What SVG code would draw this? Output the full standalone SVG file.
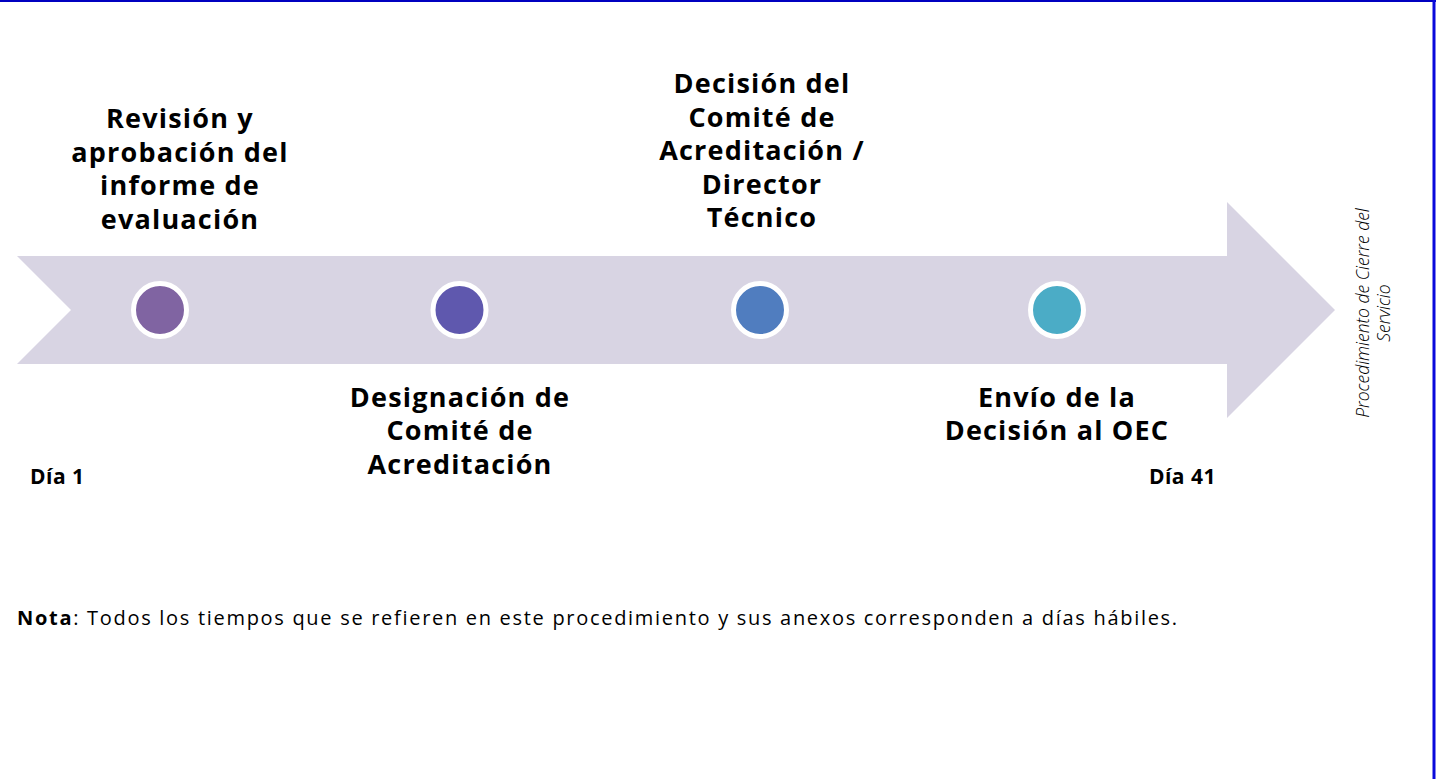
<svg xmlns="http://www.w3.org/2000/svg" width="1436" height="779" viewBox="0 0 1436 779">
<style>
.t{font-family:"Open Sans","Liberation Sans",sans-serif;font-weight:bold;font-size:27px;letter-spacing:1.2px;fill:#000;text-anchor:middle}
.d{font-family:"Open Sans","Liberation Sans",sans-serif;font-weight:bold;font-size:21px;letter-spacing:0.5px;fill:#000}
.n{font-family:"Open Sans","Liberation Sans",sans-serif;font-size:20px;letter-spacing:1.7px;fill:#000}
.s{font-family:"Open Sans","Liberation Sans",sans-serif;font-style:italic;font-weight:300;font-size:17.5px;fill:#000;text-anchor:middle}
.c{stroke:#fff;stroke-width:5}
</style>
<rect x="0" y="0" width="1436" height="779" fill="#fff"/>
<line x1="0" y1="1" x2="1436" y2="1" stroke="#0000C0" stroke-width="2"/>
<line x1="1434" y1="0" x2="1434" y2="779" stroke="#0A0ADC" stroke-width="3"/>
<g id="arrow">
<polygon points="17,256 1227,256 1227,202 1335,310 1227,418 1227,364 17,364 71,310" fill="#D8D4E3"/>
</g>
<g id="connectors"></g>
<g id="node1">
<circle class="c" cx="160" cy="310" r="26.5" fill="#8064A2"/>
<text class="t"><tspan x="180" y="128">Revisión y</tspan><tspan x="180" y="161.5">aprobación del</tspan><tspan x="180" y="195">informe de</tspan><tspan x="180" y="228.5">evaluación</tspan></text>
</g>
<g id="node2">
<circle class="c" cx="459.5" cy="310" r="26.5" fill="#5F58AE"/>
<text class="t"><tspan x="460" y="406.5">Designación de</tspan><tspan x="460" y="440">Comité de</tspan><tspan x="460" y="473.5">Acreditación</tspan></text>
</g>
<g id="node3">
<circle class="c" cx="760" cy="310" r="26.5" fill="#507DBF"/>
<text class="t"><tspan x="762" y="93">Decisión del</tspan><tspan x="762" y="126.5">Comité de</tspan><tspan x="762" y="160">Acreditación /</tspan><tspan x="762" y="193.5">Director</tspan><tspan x="762" y="227">Técnico</tspan></text>
</g>
<g id="node4">
<circle class="c" cx="1057" cy="310" r="26.5" fill="#4BACC6"/>
<text class="t"><tspan x="1057" y="406.5">Envío de la</tspan><tspan x="1057" y="440">Decisión al OEC</tspan></text>
</g>
<g id="day1"><text class="d" x="30" y="484">Día 1</text></g>
<g id="day41"><text class="d" x="1216" y="484" text-anchor="end">Día 41</text></g>
<g id="side">
<text class="s" transform="translate(1369,313) rotate(-90)"><tspan x="0" y="0">Procedimiento de Cierre del</tspan><tspan x="0" y="21">Servicio</tspan></text>
</g>
<g id="note">
<text class="n" x="17" y="625"><tspan font-weight="bold">Nota</tspan>: Todos los tiempos que se refieren en este procedimiento y sus anexos corresponden a días hábiles.</text>
</g>
</svg>
